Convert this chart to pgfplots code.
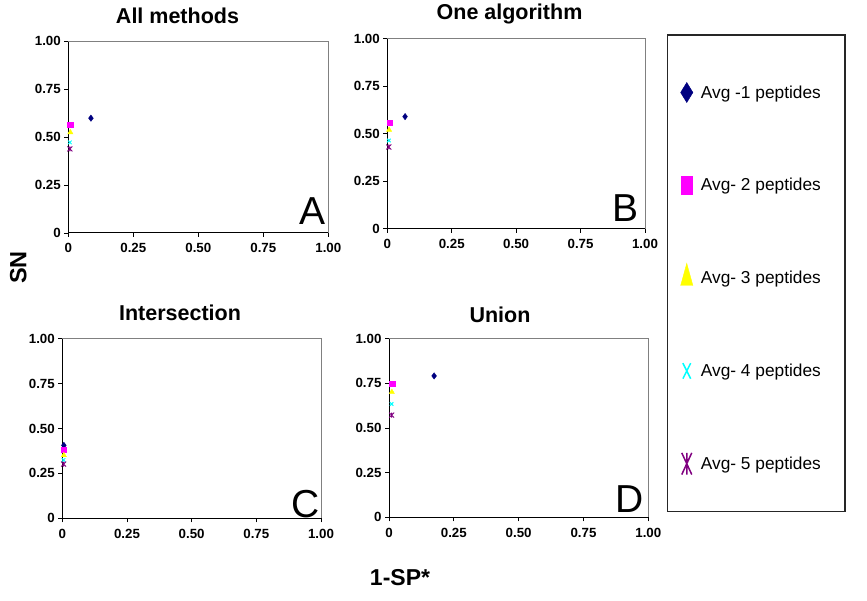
\documentclass[border=0pt]{standalone}
\usepackage{pgfplots}
\pgfplotsset{compat=1.18}
\usepackage{fontspec}
\setmainfont{Liberation Sans}
\definecolor{navyc}{RGB}{0,0,128}
\definecolor{magc}{RGB}{255,0,255}
\definecolor{yelc}{RGB}{255,255,0}
\definecolor{cyac}{RGB}{0,255,255}
\definecolor{purc}{RGB}{128,0,128}
\pgfdeclareplotmark{xstar}{%
  \pgfpathmoveto{\pgfqpoint{-\pgfplotmarksize}{-\pgfplotmarksize}}%
  \pgfpathlineto{\pgfqpoint{\pgfplotmarksize}{\pgfplotmarksize}}%
  \pgfpathmoveto{\pgfqpoint{-\pgfplotmarksize}{\pgfplotmarksize}}%
  \pgfpathlineto{\pgfqpoint{\pgfplotmarksize}{-\pgfplotmarksize}}%
  \pgfpathmoveto{\pgfqpoint{0pt}{-\pgfplotmarksize}}%
  \pgfpathlineto{\pgfqpoint{0pt}{\pgfplotmarksize}}%
  \pgfusepathqstroke
}
\pgfplotsset{
  panel/.style={
    scale only axis, anchor=south west,
    xmin=0, xmax=1, ymin=0, ymax=1,
    axis lines=left, axis line style={-, black, line width=1pt},
    tick align=outside, major tick length=4pt,
    tick style={black, line width=0.8pt},
    xtick={0,0.25,0.5,0.75,1}, ytick={0,0.25,0.5,0.75,1},
    xticklabels={0,0.25,0.50,0.75,1.00},
    yticklabels={0,0.25,0.50,0.75,1.00},
    ticklabel style={font=\bfseries\fontsize{13.3}{13.3}\selectfont},
    xticklabel style={yshift=-3pt},
    clip=false,
  },
  s1/.style={only marks, mark=diamond*, color=navyc, mark size=3.2pt},
  s2/.style={only marks, mark=square*, color=magc, mark size=2.6pt},
  s3/.style={only marks, mark=triangle*, color=yelc, mark size=3pt},
  s4/.style={only marks, mark=x, color=cyac, mark size=2.5pt, line width=1pt},
  s5/.style={only marks, mark=xstar, color=purc, mark size=2.5pt, line width=0.9pt},
}
\newcommand{\grayframe}{\draw[black!50, line width=0.9pt] (rel axis cs:0,1) -- (rel axis cs:1,1) -- (rel axis cs:1,0);}
\begin{document}
\begin{tikzpicture}[x=1pt, y=1pt]
\path (0pt,0pt) rectangle (867pt,600pt);

% Panel A
\begin{axis}[panel, at={(68.3pt,367pt)}, width=260pt, height=192pt]
\grayframe
\addplot[s1] coordinates {(0.087,0.598)};
\addplot[s2] coordinates {(0.007,0.562)};
\addplot[s3] coordinates {(0.008,0.524)};
\addplot[s4] coordinates {(0.006,0.472)};
\addplot[s5] coordinates {(0.006,0.438)};
\node[font=\fontsize{39}{39}\selectfont] at (rel axis cs:0.94,0.115) {A};
\end{axis}

% Panel B
\begin{axis}[panel, at={(387.3pt,371.3pt)}, width=257.7pt, height=190pt]
\grayframe
\addplot[s1] coordinates {(0.069,0.590)};
\addplot[s2] coordinates {(0.008,0.559)};
\addplot[s3] coordinates {(0.007,0.520)};
\addplot[s4] coordinates {(0.006,0.464)};
\addplot[s5] coordinates {(0.006,0.430)};
\node[font=\fontsize{39}{39}\selectfont] at (rel axis cs:0.924,0.109) {B};
\end{axis}

% Panel C
\begin{axis}[panel, at={(62.3pt,81.7pt)}, width=258.7pt, height=179.6pt]
\grayframe
\addplot[s1] coordinates {(0.006,0.406)};
\addplot[s2] coordinates {(0.005,0.384)};
\addplot[s3] coordinates {(0.006,0.351)};
\addplot[s4] coordinates {(0.005,0.325)};
\addplot[s5] coordinates {(0.005,0.302)};
\node[font=\fontsize{39}{39}\selectfont] at (rel axis cs:0.942,0.08) {C};
\end{axis}

% Panel D
\begin{axis}[panel, at={(389pt,82.7pt)}, width=259.3pt, height=178.7pt]
\grayframe
\addplot[s1] coordinates {(0.174,0.791)};
\addplot[s2] coordinates {(0.012,0.746)};
\addplot[s3] coordinates {(0.011,0.701)};
\addplot[s4] coordinates {(0.010,0.634)};
\addplot[s5] coordinates {(0.010,0.572)};
\node[font=\fontsize{39}{39}\selectfont] at (rel axis cs:0.929,0.102) {D};
\end{axis}

% Titles
\node[font=\bfseries\fontsize{21.5}{21.5}\selectfont, anchor=base] at (177.5pt,576pt) {All methods};
\node[font=\bfseries\fontsize{21.5}{21.5}\selectfont, anchor=base] at (509.5pt,580pt) {One algorithm};
\node[font=\bfseries\fontsize{21.5}{21.5}\selectfont, anchor=base] at (180pt,279.3pt) {Intersection};
\node[font=\bfseries\fontsize{21.5}{21.5}\selectfont, anchor=base] at (500pt,277.7pt) {Union};

% Shared axis labels
\node[font=\bfseries\fontsize{23.5}{23.5}\selectfont, rotate=90] at (18.3pt,332.5pt) {SN};
\node[font=\bfseries\fontsize{23}{23}\selectfont] at (400pt,22.5pt) {1-SP*};

% Legend box
\draw[black!85, line width=1.2pt] (667.7pt,565pt) rectangle (845pt,88.3pt);

% Legend
\begin{axis}[at={(0pt,0pt)}, anchor=south west, scale only axis, width=867pt, height=600pt,
  hide axis, xmin=0, xmax=1, ymin=0, ymax=1,
  legend style={draw=none, fill=none, at={(0.78478,0.92350)}, anchor=north west,
    inner sep=0pt, column sep=6pt, row sep=0pt,
    font=\fontsize{17.3}{17.3}\selectfont, cells={anchor=west}},
  legend image code/.code={\path[draw=none, fill=none] (0pt,-46.4pt) rectangle (0pt,46.4pt); \draw[#1] plot coordinates {(0pt,0pt)};}
]
\addlegendimage{only marks, mark=diamond*, color=navyc, mark size=10pt, mark options={xscale=0.82}}
\addlegendentry{Avg -1 peptides}
\addlegendimage{only marks, mark=square*, color=magc, mark size=9.35pt, mark options={xscale=0.59}}
\addlegendentry{Avg- 2 peptides}
\addlegendimage{only marks, mark=triangle*, color=yelc, mark size=14.7pt, mark options={xscale=0.48}}
\addlegendentry{Avg- 3 peptides}
\addlegendimage{only marks, mark=x, color=cyac, mark size=11pt, line width=1.5pt, mark options={xscale=0.5}}
\addlegendentry{Avg- 4 peptides}
\addlegendimage{only marks, mark=xstar, color=purc, mark size=10.85pt, line width=1.5pt, mark options={xscale=0.46}}
\addlegendentry{Avg- 5 peptides}
\end{axis}
\end{tikzpicture}
\end{document}
